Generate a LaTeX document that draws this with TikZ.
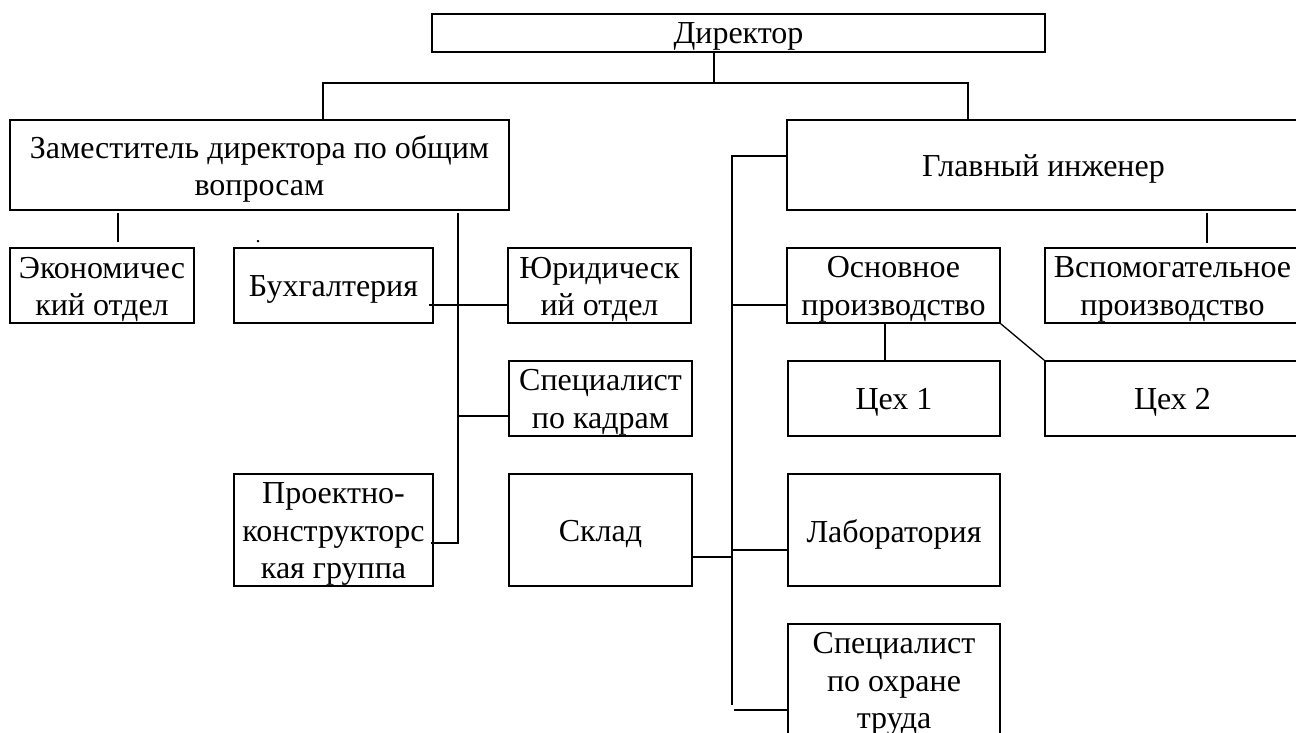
\documentclass[tikz,border=0pt]{standalone}
\usepackage{fontspec}
\setmainfont{Liberation Serif}
\newcommand\orgbox[6][-4pt]{%
  \node[box, minimum width=#4, minimum height=#5] (#2) at #3 {};
  \node[boxtext] (#2-t) at ([yshift=#1]#2.center) {#6};}
\begin{document}
\begin{tikzpicture}[x=1pt,y=-1pt,
  box/.style={draw, line width=1.6pt, inner sep=0pt},
  boxtext/.style={align=center, inner sep=0pt, font=\fontsize{32}{37.5}\selectfont},
  link/.style={line width=1.3pt}]
\useasboundingbox (0,0) rectangle (1296,733);
\clip (0,0) rectangle (1296,733);
% boxes
\orgbox[-3pt]{dir}{(738.5,33)}{613}{38}{Директор}
\orgbox{zam}{(259.5,165)}{499}{90}{Заместитель директора по общим\\вопросам}
\orgbox{gi}{(1043.5,165)}{513}{90}{Главный инженер}
\orgbox{econ}{(102,285.5)}{184}{75}{Экономичес\\кий отдел}
\orgbox{buh}{(333.5,285.5)}{199}{75}{Бухгалтерия}
\orgbox{yur}{(599.5,285.5)}{183}{75}{Юридическ\\ий отдел}
\orgbox{osn}{(893.5,285.5)}{213}{75}{Основное\\производство}
\orgbox{vsp}{(1172.5,285.5)}{255}{75}{Вспомогательное\\производство}
\orgbox{spk}{(600.5,398.5)}{183}{75}{Специалист\\по кадрам}
\orgbox{ceh1}{(894,398.5)}{212}{75}{Цех 1}
\orgbox{ceh2}{(1172.5,398.5)}{255}{75}{Цех 2}
\orgbox{proj}{(333.5,530)}{199}{112}{Проектно-\\конструкторс\\кая группа}
\orgbox{sklad}{(600.5,530)}{183}{112}{Склад}
\orgbox{lab}{(894,530)}{212}{112}{Лаборатория}
\orgbox[-1pt]{ohr}{(894,683)}{212}{118}{Специалист\\по охране\\труда}
\node[font=\fontsize{20}{20}\selectfont, inner sep=0pt, anchor=base] (dot) at (258,242) {.};
% connector coordinates
\coordinate (tb) at (714,83);
\coordinate (tl) at (323,83);
\coordinate (tr) at (968,83);
\coordinate (e1) at (118,213);
\coordinate (e2) at (118,242);
\coordinate (zt) at (458,213);
\coordinate (zb) at (458,543);
\coordinate (by) at (429,305);
\coordinate (k1) at (458,416);
\coordinate (rv1) at (732,156);
\coordinate (rv2) at (732,705);
\coordinate (o1) at (732,305);
\coordinate (s1) at (732,557);
\coordinate (l1) at (732,550);
\coordinate (h1) at (734,710);
\coordinate (v1) at (1207,213);
\coordinate (v2) at (1207,243);
\coordinate (c1) at (885,340);
% connectors
\draw[link] (dir.south -| tb) -- (tb);
\draw[link] (zam.north -| tl) -- (tl) -- (tr) -- (gi.north -| tr);
\draw[link] (e1) -- (e2);
\draw[link] (zt) -- (zb) -- ([xshift=-3pt]proj.east |- zb);
\draw[link] (by) -- (by -| yur.west);
\draw[link] (k1) -- (k1 -| spk.west);
\draw[link] (gi.west |- rv1) -- (rv1) -- (rv2);
\draw[link] (o1) -- (o1 -| osn.west);
\draw[link] (sklad.east |- s1) -- (s1);
\draw[link] (l1) -- (l1 -| lab.west);
\draw[link] (h1) -- (h1 -| ohr.west);
\draw[link] (v1) -- (v2);
\draw[link] (osn.south -| c1) -- (ceh1.north -| c1);
\draw[link] (osn.south east) -- (ceh2.north west);
\end{tikzpicture}
\end{document}
